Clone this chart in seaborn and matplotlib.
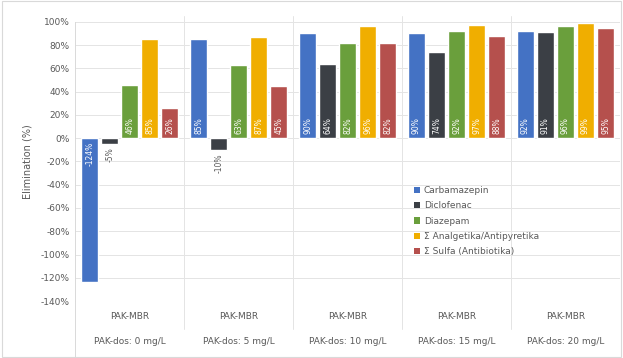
import numpy as np
import pandas as pd
import matplotlib
matplotlib.use("Agg")
import matplotlib.pyplot as plt
from matplotlib.patches import Patch
import seaborn as sns


DOSES = ["PAK-dos: 0 mg/L", "PAK-dos: 5 mg/L", "PAK-dos: 10 mg/L",
         "PAK-dos: 15 mg/L", "PAK-dos: 20 mg/L"]
REACTOR = "PAK-MBR"

SUBSTANCES = ["Carbamazepin", "Diclofenac", "Diazepam",
              "Σ Analgetika/Antipyretika", "Σ Sulfa (Antibiotika)"]

CARBAMAZEPIN = [-124, 85, 90, 90, 92]
DICLOFENAC = [-5, -10, 64, 74, 91]
DIAZEPAM = [46, 63, 82, 92, 96]
ANALGETIKA = [85, 87, 96, 97, 99]
SULFA = [26, 45, 82, 88, 95]

COLORS = ["#4472C4", "#3B3F45", "#6A9F3C", "#F0AE00", "#B5504D"]
TEXT_COLOR = "#595959"


def build_frame():
    series = [CARBAMAZEPIN, DICLOFENAC, DIAZEPAM, ANALGETIKA, SULFA]
    rows = []
    for name, values in zip(SUBSTANCES, series):
        for dose, v in zip(DOSES, values):
            rows.append({"dose": dose, "substance": name, "value": v})
    return pd.DataFrame(rows)


def main():
    df = build_frame()

    sns.set_style("white")
    plt.rcParams["font.family"] = ["DejaVu Sans"]

    fig = plt.figure(figsize=(6.23, 3.58), dpi=100)
    ax = fig.add_axes([0.121, 0.159, 0.874, 0.78])

    sns.barplot(
        data=df, x="dose", y="value", hue="substance",
        order=DOSES, hue_order=SUBSTANCES,
        palette=COLORS, width=0.92, gap=0.15,
        saturation=1, ax=ax, legend=False
    )

    ax.set_ylim(-140, 100)
    ax.set_yticks(range(-140, 101, 20))
    ax.set_yticklabels([f"{t}%" for t in range(-140, 101, 20)],
                       fontsize=6.5, color=TEXT_COLOR)
    ax.set_xlim(-0.5, len(DOSES) - 0.5)
    ax.grid(axis="y", color="#E4E4E4", linewidth=0.7)
    ax.set_axisbelow(True)
    ax.tick_params(axis="y", length=0, pad=4)
    ax.tick_params(axis="x", length=0)
    ax.set_xticklabels([])
    ax.set_xlabel("")
    ax.set_ylabel("Elimination (%)", fontsize=7, color=TEXT_COLOR, labelpad=6)

    for s in ["top", "right", "bottom"]:
        ax.spines[s].set_visible(False)
    ax.spines["left"].set_color("#D9D9D9")
    ax.spines["left"].set_linewidth(0.7)

    # bar value labels
    for container in ax.containers:
        for bar in container:
            h = bar.get_height()
            x = bar.get_x() + bar.get_width() / 2
            label = f"{h:.0f}%"
            if h >= 0:
                ax.text(x, 4, label, rotation=90, ha="center", va="bottom",
                        fontsize=5.5, color="white")
            elif h < -40:
                ax.text(x, -3, label, rotation=90, ha="center", va="top",
                        fontsize=5.5, color="white")
            else:
                ax.text(x, h - 3, label, rotation=90, ha="center", va="top",
                        fontsize=5.5, color=TEXT_COLOR)

    # two-level category axis
    trans = ax.get_xaxis_transform()
    for i, dose in enumerate(DOSES):
        ax.text(i, -0.057, REACTOR, transform=trans, ha="center", va="center",
                fontsize=6.5, color=TEXT_COLOR, clip_on=False)
        ax.text(i, -0.143, dose, transform=trans, ha="center", va="center",
                fontsize=6.5, color=TEXT_COLOR, clip_on=False)
    for i in range(1, len(DOSES)):
        ax.plot([i - 0.5, i - 0.5], [1.02, -0.1], transform=trans,
                color="#E4E4E4", linewidth=0.7, clip_on=False)
    ax.plot([-0.5, -0.5], [0, -0.2], transform=trans,
            color="#D9D9D9", linewidth=0.7, clip_on=False)

    handles = [Patch(facecolor=c, edgecolor="none") for c in COLORS]
    leg = ax.legend(handles, SUBSTANCES, loc="upper left",
                    bbox_to_anchor=(0.615, 0.425),
                    frameon=False, fontsize=6.5, handlelength=0.7,
                    handleheight=0.7, handletextpad=0.4, labelspacing=0.7,
                    borderaxespad=0)
    for t in leg.get_texts():
        t.set_color(TEXT_COLOR)

    fig.patches.append(plt.Rectangle((0.003, 0.003), 0.994, 0.994,
                                     transform=fig.transFigure, fill=False,
                                     edgecolor="#D9D9D9", linewidth=0.8))

    fig.savefig("out.png", dpi=100)
    plt.close(fig)


if __name__ == "__main__":
    main()
